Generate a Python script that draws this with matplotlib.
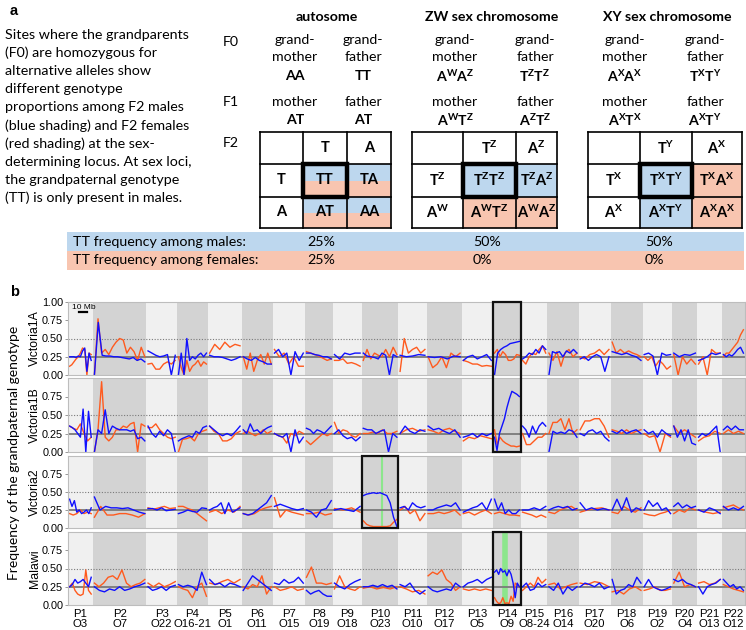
import numpy as np
import matplotlib
matplotlib.use('Agg')
import matplotlib.pyplot as plt
from matplotlib.patches import Rectangle
import matplotlib.transforms as mtransforms

plt.rcParams['mathtext.fontset'] = 'custom'
plt.rcParams['mathtext.rm'] = 'Lato'
plt.rcParams['mathtext.bf'] = 'Lato:bold'

# ---------------- data ----------------
chrom_p = ['P1', 'P2', 'P3', 'P4', 'P5', 'P6', 'P7', 'P8', 'P9', 'P10', 'P11',
           'P12', 'P13', 'P14', 'P15', 'P16', 'P17', 'P18', 'P19', 'P20', 'P21', 'P22']
chrom_o = ['O3', 'O7', 'O22', 'O16-21', 'O1', 'O11', 'O15', 'O19', 'O18', 'O23', 'O10',
           'O17', 'O5', 'O9', 'O8-24', 'O14', 'O20', 'O6', 'O2', 'O4', 'O13', 'O12']
chrom_len = [31, 67, 38, 39, 42, 39, 40, 35, 36, 46, 35, 44, 39, 35, 33, 39, 40, 40, 37, 31, 31, 29]

panel_names = ['Victoria1A', 'Victoria1B', 'Victoria2', 'Malawi']

v1a_male = [
    [0.25, 0.25, 0.25, 0.24, 0.26, 0.25, 0.33, 0.37, 0.05, 0.3, 0.2],
    [0.0, 0.72, 0.27, 0.26, 0.26, 0.25, 0.25, 0.24, 0.23, 0.22, 0.24, 0.2, 0.22, 0.18],
    [0.33, 0.3, 0.27, 0.25, 0.26, 0.28, 0.0, 0.27],
    [0.0, 0.3, 0.0, 0.5, 0.2, 0.25, 0.22, 0.27, 0.3, 0.25, 0.3],
    [0.27, 0.25, 0.25, 0.24, 0.22, 0.2, 0.22, 0.25],
    [0.25, 0.22, 0.2, 0.24, 0.2, 0.18, 0.15, 0.15],
    [0.3, 0.35, 0.25, 0.3, 0.0, 0.32, 0.2, 0.3],
    [0.3, 0.3, 0.28, 0.27, 0.25, 0.25, 0.22],
    [0.28, 0.22, 0.3, 0.28, 0.3, 0.3],
    [0.3, 0.26, 0.25, 0.24, 0.22, 0.3, 0.27, 0.0, 0.28, 0.25],
    [0.27, 0.25, 0.26, 0.28, 0.27],
    [0.25, 0.24, 0.25, 0.22, 0.26, 0.25],
    [0.2, 0.25, 0.27, 0.22, 0.25, 0.28, 0.2],
    [0.0, 0.3, 0.35, 0.38, 0.40, 0.43, 0.44, 0.45, 0.46],
    [0.22, 0.25, 0.3, 0.28, 0.35, 0.3, 0.4, 0.35],
    [0.0, 0.32, 0.3, 0.32, 0.25, 0.33, 0.3, 0.35, 0.3],
    [0.22, 0.25, 0.2, 0.25, 0.28, 0.25, 0.05, 0.25],
    [0.32, 0.3, 0.28, 0.3, 0.27, 0.25, 0.2],
    [0.28, 0.3, 0.26, 0.0, 0.3, 0.27, 0.28],
    [0.3, 0.25, 0.28, 0.27, 0.3],
    [0.2, 0.22, 0.25, 0.3, 0.28, 0.3],
    [0.28, 0.25, 0.28, 0.26, 0.3, 0.35, 0.38, 0.3],
]
v1a_female = [
    [0.12, 0.14, 0.18, 0.22, 0.25, 0.3, 0.37, 0.35, 0.0, 0.3, 0.28],
    [0.0, 0.77, 0.3, 0.35, 0.28, 0.38, 0.45, 0.5, 0.48, 0.3, 0.38, 0.32, 0.2, 0.38, 0.25],
    [0.15, 0.16, 0.08, 0.08, 0.15, 0.18, 0.15, 0.2],
    [0.25, 0.1, 0.0, 0.2, 0.05, 0.12, 0.15, 0.2, 0.12, 0.18, 0.15],
    [0.3, 0.42, 0.35, 0.45, 0.38, 0.42, 0.4],
    [0.25, 0.08, 0.3, 0.05, 0.2, 0.28, 0.15, 0.3, 0.15],
    [0.35, 0.25, 0.3, 0.15, 0.25, 0.12, 0.12],
    [0.32, 0.3, 0.28, 0.26, 0.23, 0.2, 0.22],
    [0.2, 0.2, 0.22, 0.16, 0.17, 0.15, 0.12],
    [0.2, 0.35, 0.22, 0.3, 0.27, 0.25, 0.35, 0.25, 0.38, 0.28],
    [0.05, 0.5, 0.3, 0.35, 0.38, 0.3, 0.35],
    [0.25, 0.1, 0.15, 0.25, 0.1, 0.3, 0.25, 0.3],
    [0.2, 0.18, 0.15, 0.15, 0.12, 0.13, 0.12],
    [0.3, 0.35, 0.25, 0.32, 0.28, 0.2, 0.2, 0.22, 0.28, 0.27],
    [0.2, 0.15, 0.25, 0.3, 0.28, 0.35, 0.4, 0.3],
    [0.3, 0.2, 0.32, 0.12, 0.3, 0.35, 0.25, 0.3],
    [0.25, 0.22, 0.28, 0.3, 0.35, 0.28, 0.35],
    [0.45, 0.3, 0.35, 0.3, 0.33, 0.3, 0.28, 0.25],
    [0.25, 0.2, 0.25, 0.12, 0.2, 0.15, 0.08, 0.12],
    [0.28, 0.0, 0.25, 0.15, 0.22, 0.15],
    [0.15, 0.25, 0.0, 0.35, 0.3, 0.3],
    [0.25, 0.3, 0.3, 0.35, 0.4, 0.45, 0.55, 0.62],
]
v1b_male = [
    [0.35, 0.33, 0.3, 0.25, 0.2, 0.58, 0.0, 0.55, 0.2],
    [0.0, 0.3, 0.25, 0.57, 0.25, 0.35, 0.32, 0.3, 0.3, 0.3, 0.28, 0.3, 0.18, 0.2, 0.15],
    [0.35, 0.25, 0.2, 0.28, 0.22, 0.3, 0.25, 0.0],
    [0.15, 0.18, 0.2, 0.22, 0.2, 0.28, 0.25, 0.33, 0.35],
    [0.35, 0.3, 0.25, 0.22, 0.25, 0.22, 0.28, 0.35],
    [0.3, 0.25, 0.38, 0.28, 0.3, 0.25, 0.3, 0.33, 0.35],
    [0.25, 0.22, 0.2, 0.25, 0.0, 0.3, 0.12, 0.2],
    [0.32, 0.3, 0.25, 0.3, 0.28, 0.25, 0.3, 0.35],
    [0.25, 0.3, 0.22, 0.18, 0.2, 0.15, 0.2],
    [0.32, 0.3, 0.3, 0.25, 0.28, 0.3, 0.0, 0.25, 0.2],
    [0.25, 0.35, 0.28, 0.25, 0.3, 0.28],
    [0.35, 0.3, 0.32, 0.28, 0.25, 0.3, 0.2],
    [0.2, 0.22, 0.25, 0.2, 0.25, 0.22, 0.25],
    [0.2, 0.02, 0.25, 0.35, 0.45, 0.6, 0.72, 0.82, 0.8, 0.78, 0.75],
    [0.35, 0.3, 0.2, 0.35, 0.25, 0.35, 0.4, 0.35],
    [0.0, 0.28, 0.25, 0.27, 0.25, 0.3, 0.28, 0.2],
    [0.25, 0.22, 0.28, 0.3, 0.25, 0.28, 0.2, 0.15],
    [0.28, 0.25, 0.3, 0.25, 0.28, 0.3, 0.25],
    [0.3, 0.25, 0.28, 0.2, 0.3, 0.25, 0.22],
    [0.35, 0.2, 0.3, 0.15, 0.3, 0.12, 0.1],
    [0.2, 0.25, 0.22, 0.25, 0.3, 0.35, 0.0],
    [0.3, 0.35, 0.3, 0.35, 0.3, 0.3],
]
v1b_female = [
    [0.35, 0.32, 0.3, 0.38, 0.25, 0.15, 0.2],
    [0.0, 0.3, 0.95, 0.2, 0.15, 0.2, 0.3, 0.3, 0.35, 0.33, 0.38, 0.4, 0.0, 0.38, 0.35],
    [0.33, 0.33, 0.38, 0.3, 0.25, 0.2, 0.18, 0.2],
    [0.0, 0.17, 0.18, 0.2, 0.15, 0.25, 0.28, 0.3],
    [0.35, 0.28, 0.25, 0.15, 0.15, 0.18, 0.25, 0.28],
    [0.25, 0.28, 0.25, 0.22, 0.25, 0.3, 0.25, 0.28],
    [0.25, 0.22, 0.2, 0.12, 0.25, 0.22, 0.28, 0.25],
    [0.15, 0.1, 0.15, 0.2, 0.25, 0.22, 0.25],
    [0.4, 0.25, 0.3, 0.28, 0.22, 0.2, 0.25],
    [0.25, 0.25, 0.27, 0.25, 0.3, 0.25, 0.25, 0.28],
    [0.25, 0.3, 0.32, 0.28, 0.3],
    [0.3, 0.28, 0.25, 0.3, 0.32, 0.28, 0.25],
    [0.15, 0.2, 0.18, 0.22, 0.2, 0.18],
    [0.3, 0.1, 0.2, 0.15, 0.12, 0.1, 0.08, 0.08, 0.07, 0.08],
    [0.25, 0.1, 0.1, 0.15, 0.2, 0.2, 0.25],
    [0.25, 0.4, 0.4, 0.45, 0.3, 0.45, 0.25, 0.3],
    [0.3, 0.42, 0.42, 0.45, 0.45, 0.35, 0.2],
    [0.3, 0.28, 0.25, 0.3, 0.25, 0.28, 0.3],
    [0.25, 0.2, 0.22, 0.0, 0.25, 0.2],
    [0.35, 0.25, 0.3, 0.25, 0.2],
    [0.15, 0.2, 0.22, 0.28, 0.25],
    [0.25, 0.3, 0.25, 0.28, 0.25],
]
v2_male = [
    [0.4, 0.3, 0.38, 0.22, 0.25, 0.2, 0.22, 0.25, 0.2, 0.28],
    [0.43, 0.25, 0.3, 0.28, 0.28, 0.27, 0.28, 0.25, 0.22, 0.2],
    [0.27, 0.27, 0.25, 0.28, 0.24, 0.25, 0.26],
    [0.2, 0.22, 0.25, 0.23, 0.22, 0.28, 0.27],
    [0.25, 0.28, 0.3, 0.35, 0.2, 0.35, 0.22, 0.25, 0.28],
    [0.2, 0.18, 0.2, 0.25, 0.3, 0.35, 0.45],
    [0.3, 0.33, 0.3, 0.27, 0.25, 0.27],
    [0.25, 0.22, 0.15, 0.25, 0.27, 0.38],
    [0.25, 0.27, 0.25, 0.23, 0.3],
    [0.45, 0.47, 0.48, 0.49, 0.48, 0.49, 0.47, 0.45, 0.35, 0.15, 0.02],
    [0.28, 0.3, 0.25, 0.35, 0.3, 0.28, 0.3],
    [0.25, 0.25, 0.28, 0.3, 0.32, 0.3, 0.35, 0.25],
    [0.22, 0.25, 0.28, 0.3, 0.35, 0.25, 0.4],
    [0.4, 0.25, 0.35, 0.2, 0.25, 0.2, 0.2, 0.25],
    [0.25, 0.25, 0.28, 0.25, 0.3],
    [0.25, 0.28, 0.3, 0.28, 0.3, 0.25, 0.27],
    [0.35, 0.25, 0.28, 0.25, 0.27, 0.25],
    [0.25, 0.4, 0.25, 0.42, 0.22, 0.28, 0.25],
    [0.25, 0.38, 0.3, 0.35, 0.25, 0.28, 0.2],
    [0.3, 0.35, 0.28, 0.32, 0.28, 0.3],
    [0.25, 0.22, 0.28, 0.25, 0.2],
    [0.3, 0.25, 0.28, 0.25, 0.3],
]
v2_female = [
    [0.2, 0.18, 0.2, 0.25, 0.2, 0.22, 0.2],
    [0.15, 0.3, 0.18, 0.18, 0.2, 0.2, 0.18, 0.15, 0.2],
    [0.28, 0.26, 0.28, 0.3, 0.27, 0.28],
    [0.3, 0.3, 0.27, 0.25, 0.2, 0.15, 0.1],
    [0.22, 0.25, 0.2, 0.25, 0.22, 0.3],
    [0.2, 0.18, 0.2, 0.25, 0.28, 0.3],
    [0.42, 0.15, 0.25, 0.22, 0.2, 0.18],
    [0.2, 0.2, 0.22, 0.18, 0.2],
    [0.27, 0.25, 0.28, 0.22],
    [0.1, 0.05, 0.03, 0.02, 0.02, 0.02, 0.02, 0.02, 0.03, 0.08, 0.12],
    [0.25, 0.3, 0.2, 0.25, 0.1, 0.2],
    [0.2, 0.2, 0.22, 0.2, 0.22, 0.25, 0.18],
    [0.2, 0.22, 0.18, 0.22, 0.25, 0.2],
    [0.2, 0.22, 0.2, 0.18, 0.18, 0.17],
    [0.22, 0.2, 0.18, 0.15, 0.18, 0.15],
    [0.22, 0.2, 0.25, 0.28, 0.3, 0.25],
    [0.22, 0.25, 0.27, 0.28, 0.25],
    [0.22, 0.2, 0.3, 0.25, 0.22, 0.28],
    [0.2, 0.18, 0.17, 0.2, 0.22, 0.25],
    [0.2, 0.25, 0.22, 0.28, 0.25],
    [0.25, 0.22, 0.2, 0.22],
    [0.28, 0.3, 0.32, 0.28, 0.25],
]
mal_male = [
    [0.25, 0.28, 0.35, 0.3, 0.32, 0.35, 0.3, 0.25, 0.38],
    [0.25, 0.2, 0.18, 0.22, 0.2, 0.25, 0.2, 0.22, 0.25, 0.27, 0.3],
    [0.25, 0.2, 0.22, 0.25, 0.2, 0.25, 0.27],
    [0.28, 0.25, 0.27, 0.25, 0.2, 0.45, 0.28],
    [0.35, 0.28, 0.3, 0.25, 0.3, 0.28, 0.25],
    [0.2, 0.3, 0.4, 0.35, 0.3, 0.25, 0.2],
    [0.3, 0.28, 0.35, 0.3, 0.32, 0.38, 0.3],
    [0.2, 0.15, 0.18, 0.2, 0.15, 0.12, 0.12],
    [0.3, 0.25, 0.22, 0.28, 0.32, 0.35],
    [0.25, 0.25, 0.27, 0.25, 0.28, 0.25, 0.27, 0.22],
    [0.28, 0.25, 0.3, 0.2, 0.15, 0.2],
    [0.25, 0.2, 0.18, 0.2, 0.22, 0.2, 0.3, 0.25],
    [0.25, 0.3, 0.32, 0.35, 0.3, 0.35, 0.38],
    [0.45, 0.48, 0.42, 0.5, 0.45, 0.47, 0.4, 0.48, 0.42, 0.3, 0.1, 0.3, 0.25],
    [0.25, 0.3, 0.2, 0.22, 0.3, 0.25, 0.28],
    [0.25, 0.2, 0.3, 0.15, 0.25, 0.2, 0.25],
    [0.25, 0.3, 0.28, 0.25, 0.3, 0.22, 0.25],
    [0.35, 0.15, 0.2, 0.22, 0.28, 0.25, 0.38, 0.3],
    [0.25, 0.35, 0.25, 0.22, 0.2, 0.22, 0.25],
    [0.35, 0.32, 0.35, 0.3, 0.28, 0.25],
    [0.25, 0.15, 0.25, 0.28, 0.3, 0.35],
    [0.35, 0.3, 0.25, 0.28, 0.22, 0.25, 0.2],
]
mal_female = [
    [0.25, 0.3, 0.2, 0.15, 0.13, 0.15, 0.48, 0.2, 0.15],
    [0.3, 0.25, 0.3, 0.38, 0.4, 0.35, 0.48, 0.3, 0.25, 0.28, 0.3, 0.35],
    [0.3, 0.25, 0.3, 0.25, 0.28, 0.32],
    [0.25, 0.22, 0.2, 0.1, 0.25, 0.3, 0.12],
    [0.3, 0.28, 0.32, 0.35, 0.3, 0.35],
    [0.25, 0.22, 0.28, 0.25, 0.4, 0.15, 0.25],
    [0.25, 0.2, 0.22, 0.25, 0.2, 0.22],
    [0.38, 0.52, 0.3, 0.3, 0.28, 0.3],
    [0.22, 0.4, 0.25, 0.22, 0.2, 0.25],
    [0.23, 0.25, 0.22, 0.24, 0.22, 0.25],
    [0.25, 0.22, 0.18, 0.2, 0.15],
    [0.4, 0.45, 0.42, 0.48, 0.35, 0.3, 0.2, 0.25],
    [0.22, 0.2, 0.22, 0.2, 0.22, 0.2],
    [0.1, 0.05, 0.02, 0.03, 0.1, 0.02, 0.03, 0.02, 0.12, 0.05, 0.3, 0.28, 0.25],
    [0.2, 0.25, 0.3, 0.25, 0.38, 0.3, 0.35],
    [0.28, 0.3, 0.22, 0.25, 0.28, 0.3],
    [0.3, 0.28, 0.32, 0.3, 0.25],
    [0.18, 0.2, 0.15, 0.22, 0.25, 0.2],
    [0.2, 0.22, 0.25, 0.2, 0.2, 0.22],
    [0.3, 0.45, 0.25, 0.28, 0.25],
    [0.3, 0.32, 0.28, 0.3, 0.35],
    [0.28, 0.25, 0.22, 0.2, 0.18],
]
male_series = [v1a_male, v1b_male, v2_male, mal_male]
female_series = [v1a_female, v1b_female, v2_female, mal_female]

# highlighted sex-determining regions: (first panel, last panel, chromosome index)
highlight = [(0, 1, 13), (2, 2, 9), (3, 3, 13)]
# candidate sex locus position: (panel, chromosome index, position within chromosome in Mb, width)
sex_locus = [(2, 9, 26.0, 1.5), (3, 13, 15.0, 4.0)]

# panel a text
para_lines = ['Sites where the grandparents', '(F0) are homozygous for',
              'alternative alleles show', 'different genotype',
              'proportions among F2 males', '(blue shading) and F2 females',
              '(red shading) at the sex-', 'determining locus. At sex loci,',
              'the grandpaternal genotype', '(TT) is only present in males.']
freq_male = ['25%', '50%', '50%']
freq_female = ['25%', '0%', '0%']

# ---------------- style ----------------
BLUE_SH = '#bdd7ee'
RED_SH = '#f8c5b0'
LINE_BLUE = '#1010ff'
LINE_RED = '#ff5a1e'
LIGHT = '#f0f0f0'
DARK = '#d3d3d3'
FA = 'Lato'
FB = 'Liberation Sans'
SZ = 10.2

W, H = 746, 630
fig = plt.figure(figsize=(W / 100, H / 100), dpi=100)

ov = fig.add_axes([0, 0, 1, 1])
ov.set_xlim(0, W)
ov.set_ylim(H, 0)
ov.axis('off')


def T(x, y, s, ha='center', bold=False, size=SZ, fam=FA, va='center'):
    ov.text(x, y, s, ha=ha, va=va, fontsize=size, family=fam,
            fontweight='bold' if bold else 'normal')


T(10, 11, 'a', ha='left', bold=True, size=10.5, fam=FB)
for i, line in enumerate(para_lines):
    T(5, 35 + i * 18.1, line, ha='left', size=10.3)

# headers
T(327, 17, 'autosome', bold=True)
T(492, 17, 'ZW sex chromosome', bold=True)
T(667, 17, 'XY sex chromosome', bold=True)
T(223, 42, 'F0', ha='left')
T(223, 102, 'F1', ha='left')
T(223, 143, 'F2', ha='left')

parents = [
    (295, 363, 'AA', 'TT', 'AT', 'AT'),
    (455, 535, r'$\mathbf{A^{W}A^{Z}}$', r'$\mathbf{T^{Z}T^{Z}}$',
     r'$\mathbf{A^{W}T^{Z}}$', r'$\mathbf{A^{Z}T^{Z}}$'),
    (625, 705, r'$\mathbf{A^{X}A^{X}}$', r'$\mathbf{T^{X}T^{Y}}$',
     r'$\mathbf{A^{X}T^{X}}$', r'$\mathbf{A^{X}T^{Y}}$'),
]
for xm, xf, gm, gf, m, f in parents:
    T(xm, 40, 'grand-'); T(xm, 57, 'mother'); T(xm, 76, gm, bold=True)
    T(xf, 40, 'grand-'); T(xf, 57, 'father'); T(xf, 76, gf, bold=True)
    T(xm, 102, 'mother'); T(xm, 120, m, bold=True)
    T(xf, 102, 'father'); T(xf, 120, f, bold=True)

rows = [132, 164, 197, 228]
grids = [
    ([260, 303, 347, 391], ['T', 'A'], ['T', 'A'],
     [['TT', 'TA'], ['AT', 'AA']], [['s', 's'], ['s', 's']]),
    ([412, 463, 516, 557], [r'$\mathbf{T^{Z}}$', r'$\mathbf{A^{Z}}$'],
     [r'$\mathbf{T^{Z}}$', r'$\mathbf{A^{W}}$'],
     [[r'$\mathbf{T^{Z}T^{Z}}$', r'$\mathbf{T^{Z}A^{Z}}$'],
      [r'$\mathbf{A^{W}T^{Z}}$', r'$\mathbf{A^{W}A^{Z}}$']],
     [['b', 'b'], ['r', 'r']]),
    ([588, 640, 692, 742], [r'$\mathbf{T^{Y}}$', r'$\mathbf{A^{X}}$'],
     [r'$\mathbf{T^{X}}$', r'$\mathbf{A^{X}}$'],
     [[r'$\mathbf{T^{X}T^{Y}}$', r'$\mathbf{T^{X}A^{X}}$'],
      [r'$\mathbf{A^{X}T^{Y}}$', r'$\mathbf{A^{X}A^{X}}$']],
     [['b', 'r'], ['b', 'r']]),
]
for cols, top, left, cells, shade in grids:
    for r in range(2):
        for c in range(2):
            x0, x1 = cols[c + 1], cols[c + 2]
            y0, y1 = rows[r + 1], rows[r + 2]
            k = shade[r][c]
            if k == 's':
                ym = (y0 + y1) / 2
                ov.add_patch(Rectangle((x0, y0), x1 - x0, ym - y0, color=BLUE_SH, lw=0))
                ov.add_patch(Rectangle((x0, ym), x1 - x0, y1 - ym, color=RED_SH, lw=0))
            else:
                ov.add_patch(Rectangle((x0, y0), x1 - x0, y1 - y0,
                                       color=BLUE_SH if k == 'b' else RED_SH, lw=0))
            T((x0 + x1) / 2, (y0 + y1) / 2, cells[r][c], bold=True, size=10.5)
    for c in range(2):
        T((cols[c + 1] + cols[c + 2]) / 2, (rows[0] + rows[1]) / 2, top[c], bold=True, size=10.5)
    for r in range(2):
        T((cols[0] + cols[1]) / 2, (rows[r + 1] + rows[r + 2]) / 2, left[r], bold=True, size=10.5)
    for xv in cols:
        ov.plot([xv, xv], [rows[0], rows[-1]], color='k', lw=1.2)
    for yv in rows:
        ov.plot([cols[0], cols[-1]], [yv, yv], color='k', lw=1.2)
    ov.add_patch(Rectangle((cols[1], rows[1]), cols[2] - cols[1], rows[2] - rows[1],
                           fill=False, ec='k', lw=3.2))

ov.add_patch(Rectangle((67, 232), W - 67 - 2, 19, color=BLUE_SH, lw=0))
ov.add_patch(Rectangle((67, 251), W - 67 - 2, 19, color=RED_SH, lw=0))
T(73, 241.5, 'TT frequency among males:', ha='left', size=10.3)
T(73, 260.5, 'TT frequency among females:', ha='left', size=10.3)
for xv, a, b in zip([307, 473, 645], freq_male, freq_female):
    T(xv, 241.5, a, ha='left', size=10.3)
    T(xv, 260.5, b, ha='left', size=10.3)

T(10, 292, 'b', ha='left', bold=True, size=10.5, fam=FB)

# ---------------- panel b ----------------
offsets = np.concatenate([[0], np.cumsum(chrom_len)[:-1]])
total = float(np.sum(chrom_len))
pad = 2.0
panel_px = [(302, 375), (378, 452), (456, 528), (532, 605)]
AX_L, AX_R = 68, 745
axes = []
for p, (top, bot) in enumerate(panel_px):
    ax = fig.add_axes([AX_L / W, 1 - bot / H, (AX_R - AX_L) / W, (bot - top) / H])
    axes.append(ax)
    for j, L in enumerate(chrom_len):
        ax.axvspan(offsets[j], offsets[j] + L, color=LIGHT if j % 2 == 0 else DARK, lw=0, zorder=0)
    for (pp, cj, pos, wd) in sex_locus:
        if pp == p:
            ax.axvline(offsets[cj] + pos, color='#8ce68c', lw=wd, zorder=1)
    ax.axhline(0.25, color='#7a7a7a', lw=1.3, zorder=1)
    ax.axhline(0.5, color='#7a7a7a', lw=0.8, ls=(0, (1, 1.5)), zorder=1)
    for j, L in enumerate(chrom_len):
        for series, col in ((female_series[p][j], LINE_RED), (male_series[p][j], LINE_BLUE)):
            xs = np.linspace(offsets[j] + pad, offsets[j] + L - pad, len(series))
            ax.plot(xs, series, color=col, lw=1.0, zorder=2)
    ax.set_xlim(0, total)
    ax.set_ylim(0, 1)
    yt = [0, 0.25, 0.5, 0.75, 1.0] if p == 0 else [0, 0.25, 0.5, 0.75]
    ax.set_yticks(yt)
    ax.set_yticklabels(['%.2f' % v for v in yt], fontsize=7.8, family=FB)
    ax.tick_params(axis='y', length=2, width=0.6, color='#888888', pad=1.5)
    for s in ax.spines.values():
        s.set_color('#bdbdbd')
        s.set_linewidth(0.8)
    ax.set_ylabel(panel_names[p], fontsize=8.8, family=FB)
    ax.yaxis.set_label_coords((41 - AX_L) / (AX_R - AX_L), 0.5)
    if p == 3:
        mids = offsets + np.array(chrom_len) / 2
        ax.set_xticks(mids)
        ax.set_xticklabels([a + '\n' + b for a, b in zip(chrom_p, chrom_o)],
                           fontsize=8.2, family=FB, linespacing=1.0)
        ax.tick_params(axis='x', length=0, pad=3)
    else:
        ax.set_xticks([])

# scale bar
axes[0].plot([13.5, 23.5], [0.865, 0.865], color='k', lw=1.6, zorder=3)
axes[0].text(5, 0.92, '10 Mb', fontsize=6, family=FB, va='center', ha='left', zorder=3)

# highlight boxes
for p0, p1, cj in highlight:
    tr = mtransforms.blended_transform_factory(axes[0].transData, fig.transFigure)
    ytop = 1 - panel_px[p0][0] / H
    ybot = 1 - panel_px[p1][1] / H
    rect = Rectangle((offsets[cj], ybot), chrom_len[cj], ytop - ybot, transform=tr,
                     fill=False, ec='#111111', lw=1.6, zorder=5, clip_on=False)
    fig.add_artist(rect)

fig.text(14 / W, 1 - 453 / H, 'Frequency of the grandpaternal genotype', rotation=90,
         ha='center', va='center', fontsize=10.0, family=FA)

fig.savefig('out.png', dpi=100)
